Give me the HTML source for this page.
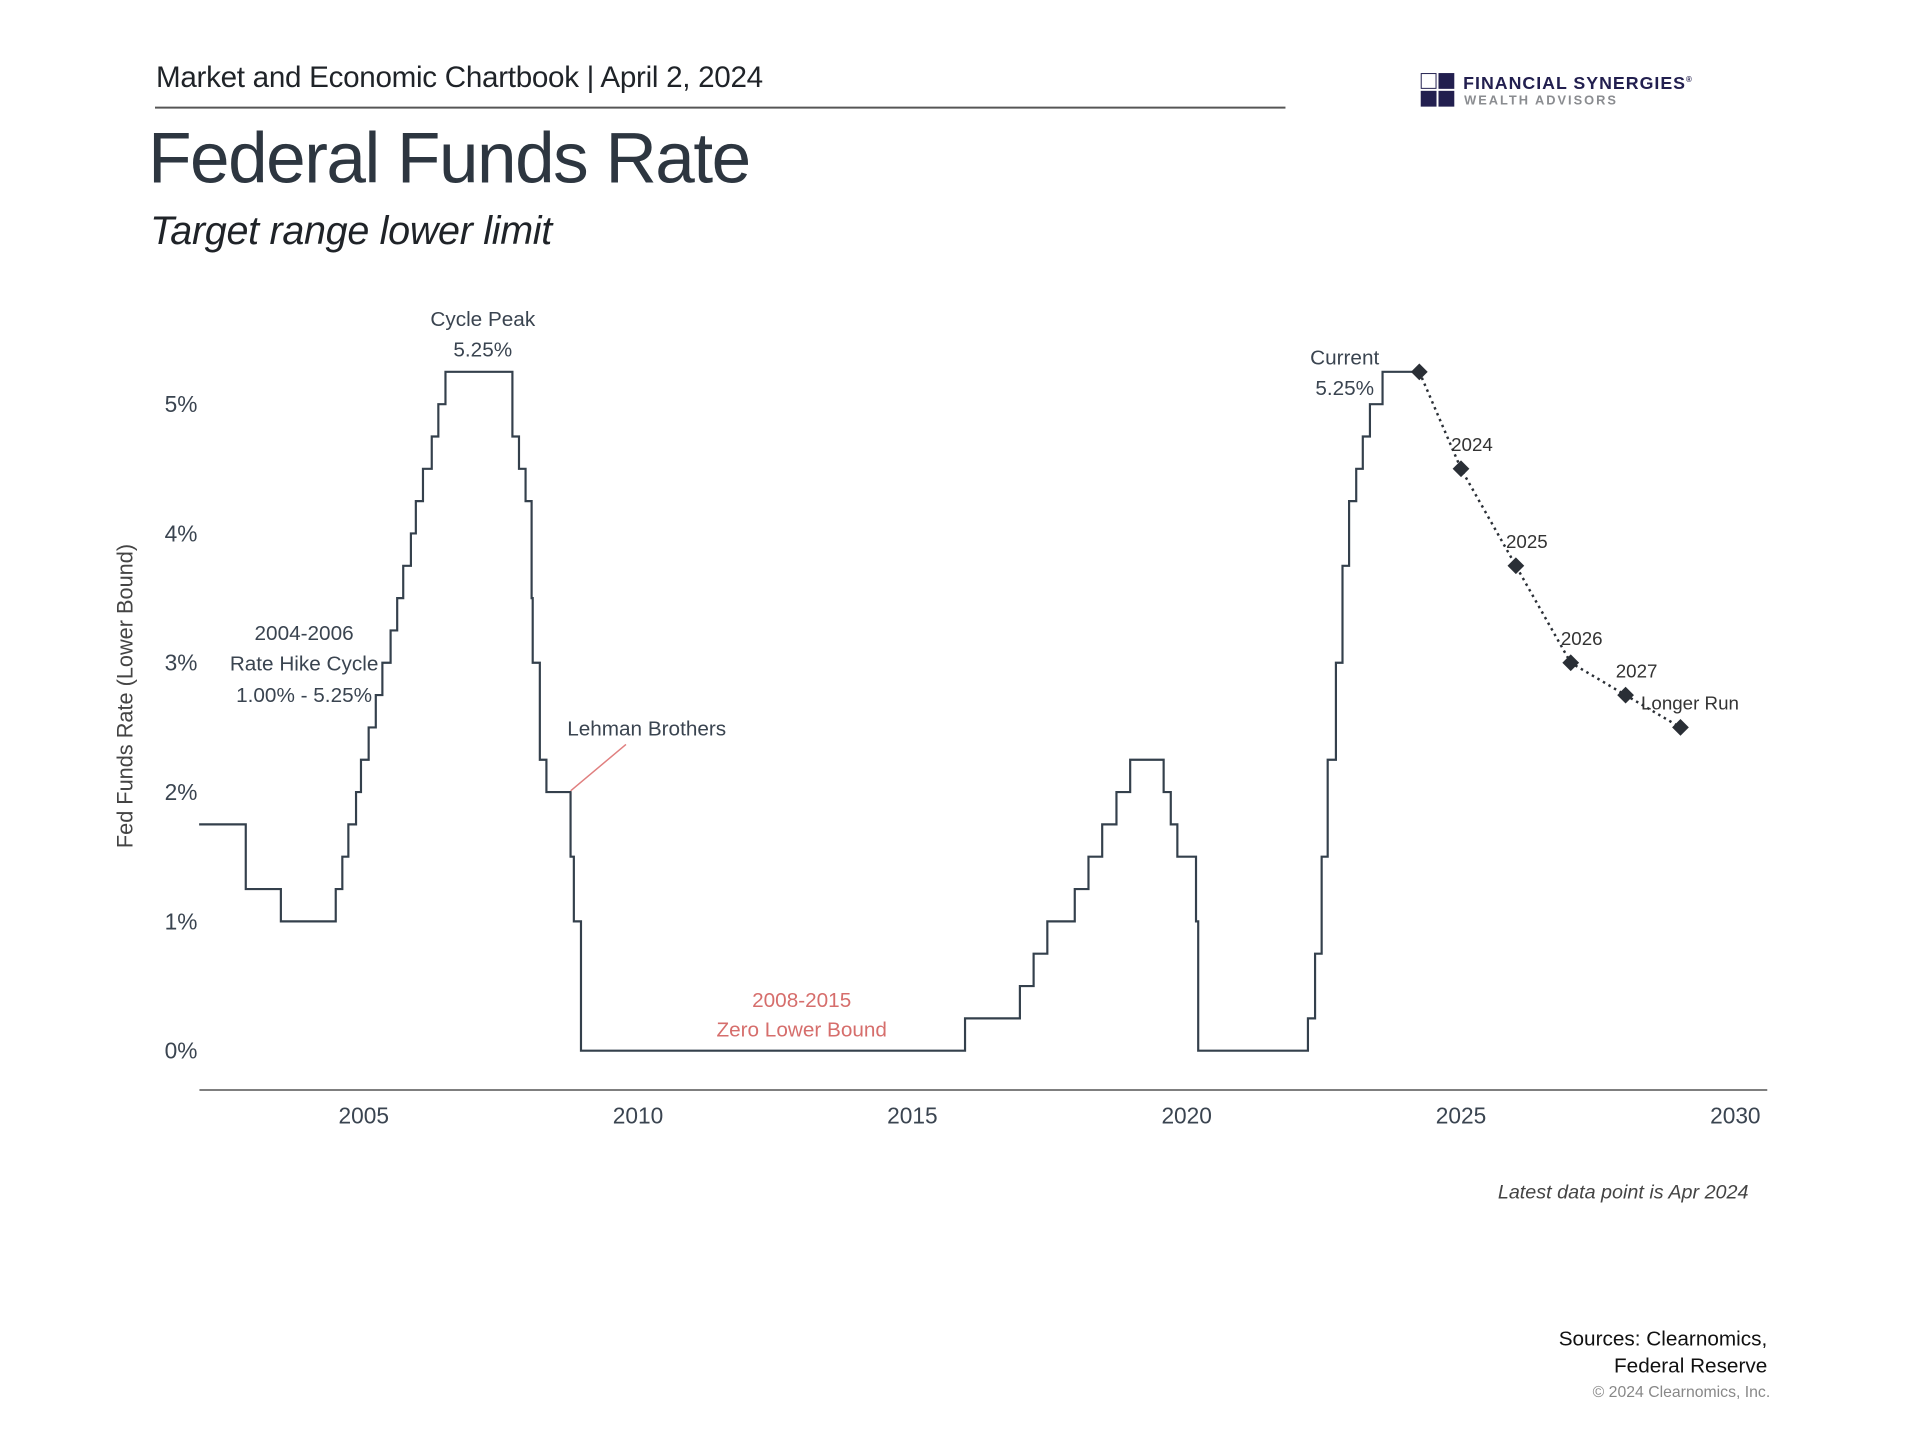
<!DOCTYPE html>
<html><head><meta charset="utf-8"><style>
html,body{margin:0;padding:0;background:#fff;}
body{width:1920px;height:1440px;position:relative;overflow:hidden;font-family:"Liberation Sans",sans-serif;color:#2f3a45;}
#wrap{position:absolute;left:0;top:0;width:1920px;height:1440px;transform:scale(0.9873);transform-origin:0 0;}
.t{position:absolute;white-space:nowrap;}
</style></head><body>
<div id="wrap">
<div class="t" style="left:158px;top:62px;font-size:30px;color:#1f2328;letter-spacing:-0.3px;">Market and Economic Chartbook | April 2, 2024</div>
<div style="position:absolute;left:157px;top:108px;width:1145px;height:1.5px;background:#555;"></div>
<div style="position:absolute;left:1439px;top:74px;width:36px;height:36px;">
 <div style="position:absolute;left:0;top:0;width:16px;height:16px;border:1.5px solid #221f4f;box-sizing:border-box;"></div>
 <div style="position:absolute;left:18px;top:0;width:16px;height:16px;background:#221f4f;"></div>
 <div style="position:absolute;left:0;top:18px;width:16px;height:16px;background:#221f4f;"></div>
 <div style="position:absolute;left:18px;top:18px;width:16px;height:16px;background:#221f4f;"></div>
</div>
<div class="t" style="left:1482px;top:74px;font-size:18px;font-weight:bold;color:#221f4f;letter-spacing:1px;">FINANCIAL SYNERGIES<sup style="font-size:8px">®</sup></div>
<div class="t" style="left:1483px;top:94px;font-size:13px;font-weight:bold;color:#8a8c90;letter-spacing:2px;">WEALTH ADVISORS</div>
<div class="t" style="left:150px;top:120px;font-size:72px;color:#2d3640;letter-spacing:-1.5px;">Federal Funds Rate</div>
<div class="t" style="left:152px;top:212px;font-size:40px;font-style:italic;color:#1f2328;letter-spacing:-0.3px;">Target range lower limit</div>

<svg id="chart" width="1920" height="1440" style="position:absolute;left:0;top:0;" font-family="Liberation Sans, sans-serif"></svg>

<div class="t" style="right:149px;top:1197px;font-size:20px;font-style:italic;color:#444;">Latest data point is Apr 2024</div>
<div class="t" style="right:130px;top:1343px;font-size:21px;text-align:right;line-height:27px;color:#111;">Sources: Clearnomics,<br>Federal Reserve</div>
<div class="t" style="right:127px;top:1402px;font-size:16px;color:#888;">© 2024 Clearnomics, Inc.</div>
</div>
<script>
// step series: [date, rate]
const stepDates = [2002.0,2002.85,2003.49,2004.49,2004.61,2004.72,2004.86,2004.95,2005.09,2005.22,2005.34,2005.49,2005.61,2005.72,2005.86,2005.95,2006.08,2006.24,2006.36,2006.49,2007.71,2007.83,2007.95,2008.06,2008.08,2008.21,2008.33,2008.77,2008.83,2008.96,2015.96,2016.96,2017.21,2017.46,2017.96,2018.21,2018.46,2018.72,2018.97,2019.58,2019.71,2019.83,2020.17,2020.21,2022.21,2022.34,2022.46,2022.57,2022.72,2022.84,2022.96,2023.09,2023.21,2023.34,2023.57,2024.24];
const stepRates = [1.75,1.25,1.0,1.25,1.5,1.75,2.0,2.25,2.5,2.75,3.0,3.25,3.5,3.75,4.0,4.25,4.5,4.75,5.0,5.25,4.75,4.5,4.25,3.5,3.0,2.25,2.0,1.5,1.0,0,0.25,0.5,0.75,1.0,1.25,1.5,1.75,2.0,2.25,2.0,1.75,1.5,1.0,0,0.25,0.75,1.5,2.25,3.0,3.75,4.25,4.5,4.75,5.0,5.25,5.25];
const projDates = [2024.24,2025.0,2026.0,2027.0,2028.0,2029.0];
const projRates = [5.25,4.5,3.75,3.0,2.75,2.5];
const projLabels = ["","2024","2025","2026","2027","Longer Run"];
const xTicks = [2005,2010,2015,2020,2025,2030];
const yTicks = [0,1,2,3,4,5];

const X = d => 368.4 + (d-2005)*55.57;
const Y = v => 1064.2 - v*130.97;
const svg = document.getElementById('chart');
const NS = 'http://www.w3.org/2000/svg';
function mk(tag, attrs, parent){const e=document.createElementNS(NS,tag);for(const k in attrs)e.setAttribute(k,attrs[k]);(parent||svg).appendChild(e);return e;}
function txt(s,x,y,opts){const e=mk('text',Object.assign({x:x,y:y,'font-size':22,fill:'#3a4450','text-anchor':'middle'},opts||{}));e.textContent=s;return e;}

const ax = mk('line',{x1:202,y1:1104,x2:1790,y2:1104,stroke:'#555','stroke-width':1.5});


xTicks.forEach(t=>{const e=txt(String(t),X(t),1138,{'font-size':23});

});
yTicks.forEach(t=>{const e=txt(t+'%',200,Y(t)+8,{'font-size':23,'text-anchor':'end'});

});
const yt = txt('Fed Funds Rate (Lower Bound)',0,0,{'font-size':22,transform:'translate(134,705) rotate(-90)',fill:'#444'});



let d='M'+X(stepDates[0])+','+Y(stepRates[0]);
for(let i=1;i<stepDates.length;i++){d+=' H'+X(stepDates[i])+' V'+Y(stepRates[i]);}
const sl = mk('path',{d:d,fill:'none',stroke:'#34404c','stroke-width':2.2});



let pd='';projDates.forEach((p,i)=>{pd+=(i?' L':'M')+X(p)+','+Y(projRates[i]);});
const pl = mk('path',{d:pd,fill:'none',stroke:'#2a2f36','stroke-width':2.5,'stroke-dasharray':'2.5 4'});


projDates.forEach((p,i)=>{const cx=X(p),cy=Y(projRates[i]);
const m=mk('rect',{x:cx-6,y:cy-6,width:12,height:12,fill:'#2a2f36',transform:'rotate(45 '+cx+' '+cy+')'});


if(projLabels[i]){const l=txt(projLabels[i],cx+(i==5?-40:-10),cy-18,{'font-size':19,'text-anchor':'start',fill:'#333'});

}});

[['Cycle Peak',489,330],['5.25%',489,361],['2004-2006',308,648],['Rate Hike Cycle',308,679],['1.00% - 5.25%',308,711],['Lehman Brothers',655,745],['Current',1362,369],['5.25%',1362,400]].forEach(a=>{const e=txt(a[0],a[1],a[2],{'font-size':21});

});
[['2008-2015',812,1020],['Zero Lower Bound',812,1050]].forEach(a=>{const e=txt(a[0],a[1],a[2],{'font-size':21,fill:'#d66e6c'});

});
const ar = mk('line',{x1:634,y1:754,x2:578,y2:801,stroke:'#e07f7f','stroke-width':1.5});


</script>
</body></html>
